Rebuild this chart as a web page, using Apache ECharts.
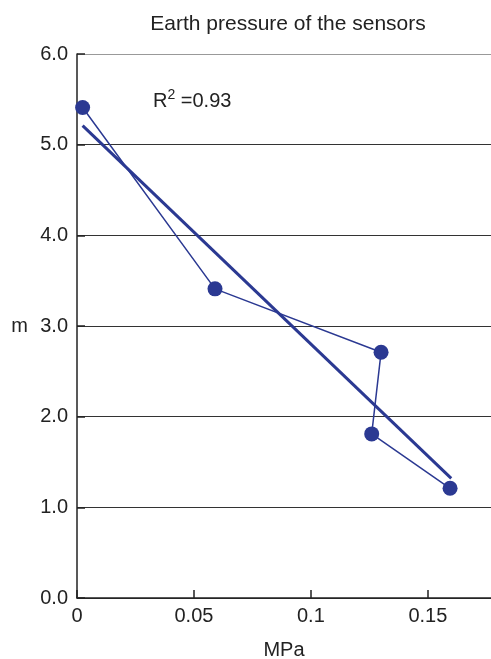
<!DOCTYPE html>
<html>
<head>
<meta charset="utf-8">
<script src="https://cdn.jsdelivr.net/npm/echarts@6/dist/echarts.min.js"></script>
<style>
html,body{margin:0;padding:0;background:#fff;}
#chart{width:491px;height:659px;}
</style>
</head>
<body>
<div id="chart"></div>
<script>
// Data
var pressure = [0.0024, 0.059, 0.130, 0.126, 0.1595];  // MPa
var depth = [5.41, 3.41, 2.71, 1.81, 1.21];             // m
var fitX = [0.0024, 0.16];
var fitY = [5.21, 1.32];
var xTicks = [0, 0.05, 0.1, 0.15];
var yTicks = [0, 1, 2, 3, 4, 5, 6];
var titleText = 'Earth pressure of the sensors';
var r2Text = '0.93';

var blue = '#2b3992';
var font = 'Liberation Sans, Arial, Helvetica, sans-serif';

var obs = pressure.map(function (p, i) { return [p, depth[i]]; });
var fit = fitX.map(function (p, i) { return [p, fitY[i]]; });

var chart = echarts.init(document.getElementById('chart'), null, {renderer: 'canvas'});
chart.setOption({
  animation: false,
  backgroundColor: '#fff',
  title: {
    text: titleText,
    left: 287, top: 9,
    textAlign: 'center',
    textStyle: {fontFamily: font, fontSize: 21, fontWeight: 'normal', color: '#222'}
  },
  grid: {left: 77, right: 0, top: 54, bottom: 61, containLabel: false, outerBoundsMode: 'none'},
  xAxis: {
    type: 'value', min: 0, max: 0.177, interval: 0.05,
    name: 'MPa', nameLocation: 'middle', nameGap: 42,
    nameTextStyle: {fontFamily: font, fontSize: 20, color: '#222'},
    axisLine: {show: true, lineStyle: {color: '#222', width: 1.5}},
    axisTick: {show: true, inside: true, length: 8, lineStyle: {color: '#222', width: 1.5},
      customValues: xTicks},
    axisLabel: {fontFamily: font, fontSize: 20, color: '#222', margin: 8,
      customValues: xTicks,
      formatter: function (v) { return String(Math.round(v * 100) / 100); }},
    splitLine: {show: false}
  },
  yAxis: {
    type: 'value', min: 0, max: 6, interval: 1,
    name: 'm', nameLocation: 'middle', nameGap: 49, nameRotate: 0,
    nameTextStyle: {fontFamily: font, fontSize: 20, color: '#222', align: 'right'},
    axisLine: {show: true, lineStyle: {color: '#222', width: 1.5}},
    axisTick: {show: true, inside: true, length: 8, lineStyle: {color: '#222', width: 1.5}},
    axisLabel: {fontFamily: font, fontSize: 20, color: '#222', margin: 9,
      formatter: function (v) { return v.toFixed(1); }},
    splitLine: {show: true, lineStyle: {color: ['#333', '#333', '#333', '#333', '#333', '#333', '#999'], width: 1.2}}
  },
  graphic: [{
    type: 'text', left: 153, top: 88,
    style: {
      text: '{r|R}{s|2}{r| =' + r2Text + '}',
      rich: {
        r: {fontFamily: font, fontSize: 20, fill: '#222', verticalAlign: 'bottom'},
        s: {fontFamily: font, fontSize: 14, fill: '#222', verticalAlign: 'top', padding: [0, 0, 9, 0]}
      }
    }
  }],
  series: [
    {
      type: 'line', data: fit, symbol: 'none',
      lineStyle: {color: blue, width: 3}, z: 3
    },
    {
      type: 'line', data: obs, symbol: 'circle', symbolSize: 15,
      itemStyle: {color: blue}, lineStyle: {color: blue, width: 1.5}, z: 4
    }
  ]
});
// shift title slightly to match reference placement
chart.setOption({title: {left: 283}});
</script>
</body>
</html>
